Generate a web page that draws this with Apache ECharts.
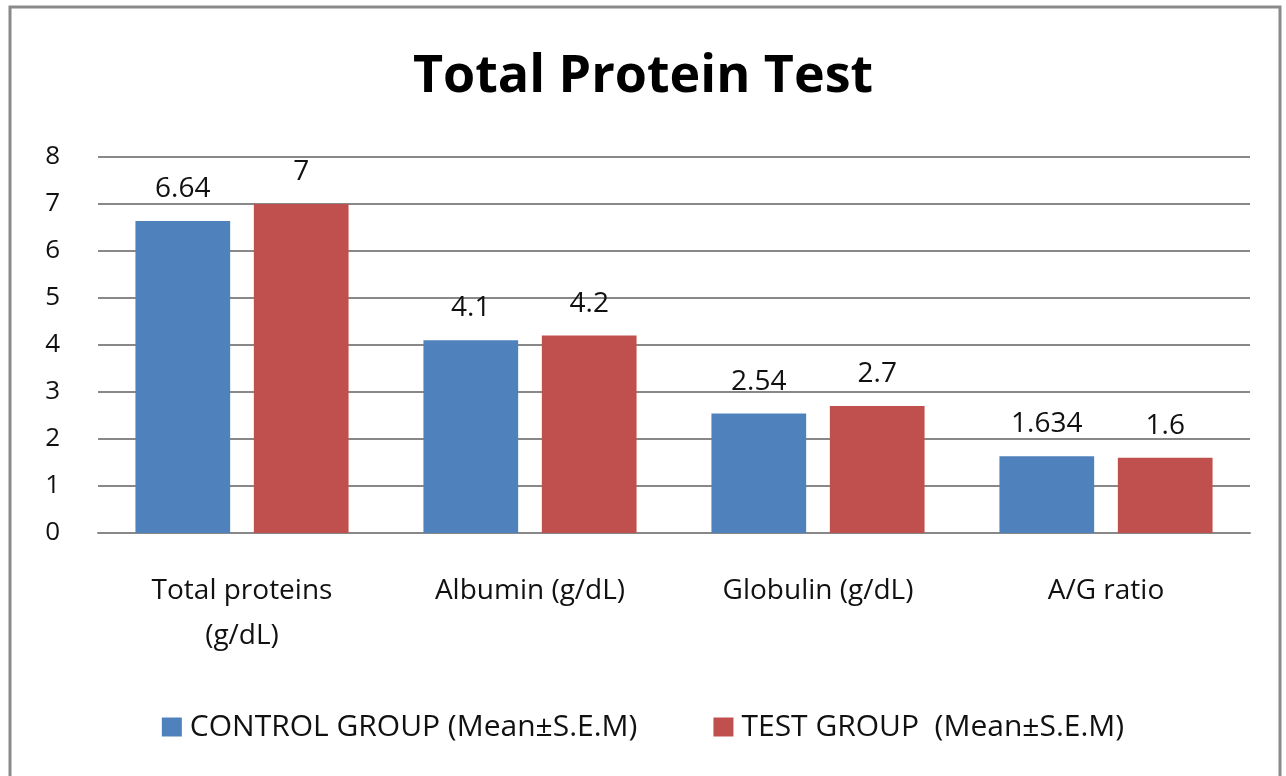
<!DOCTYPE html>
<html>
<head>
<meta charset="utf-8">
<script src="https://cdn.jsdelivr.net/npm/echarts@6/dist/echarts.min.js"></script>
<style>
  html, body { margin: 0; padding: 0; background: #fff; }
  #chart { width: 1286px; height: 776px; }
</style>
</head>
<body>
<div id="chart"></div>
<script>
const categories = ['Total proteins\n(g/dL)', 'Albumin (g/dL)', 'Globulin (g/dL)', 'A/G ratio']
const controlGroup = [6.64, 4.1, 2.54, 1.634]
const testGroup = [7, 4.2, 2.7, 1.6]
const yTicks = [0, 1, 2, 3, 4, 5, 6, 7, 8]

const font = '"Open Sans", "Noto Sans", sans-serif'
const chart = echarts.init(document.getElementById('chart'))

const labelStyle = {
  show: true,
  position: 'top',
  distance: 18,
  fontFamily: font,
  fontSize: 28,
  color: '#111',
}

chart.setOption({
  animation: false,
  textStyle: { fontFamily: font },
  graphic: [
    {
      type: 'rect',
      shape: { x: 10, y: 7, width: 1270, height: 820 },
      style: { fill: 'none', stroke: '#8a8a8a', lineWidth: 3 },
      silent: true,
    },
  ],
  title: {
    text: 'Total Protein Test',
    left: 'center',
    top: 46,
    textStyle: { fontFamily: font, fontSize: 52, fontWeight: 'bold', color: '#000' },
  },
  legend: {
    bottom: 29,
    left: 'center',
    itemWidth: 20,
    itemHeight: 19,
    itemGap: 76,
    icon: 'rect',
    textStyle: { fontFamily: font, fontSize: 30, color: '#111', padding: [0, 0, 0, 3] },
    data: ['CONTROL GROUP (Mean±S.E.M)', 'TEST GROUP  (Mean±S.E.M)'],
  },
  grid: { left: 98, right: 36, top: 157, height: 376 },
  xAxis: {
    type: 'category',
    data: categories,
    axisTick: { show: false },
    axisLine: { lineStyle: { color: '#888', width: 2 } },
    axisLabel: {
      margin: 36,
      fontFamily: font,
      fontSize: 28,
      lineHeight: 45,
      color: '#111',
      interval: 0,
    },
  },
  yAxis: {
    type: 'value',
    min: yTicks[0],
    max: yTicks[yTicks.length - 1],
    interval: 1,
    axisLine: { show: false },
    axisTick: { show: false },
    splitLine: { lineStyle: { color: '#888', width: 2 } },
    axisLabel: { margin: 38, fontFamily: font, fontSize: 26, color: '#111' },
  },
  series: [
    {
      name: 'CONTROL GROUP (Mean±S.E.M)',
      type: 'bar',
      data: controlGroup,
      barGap: '25%',
      barCategoryGap: '26%',
      itemStyle: { color: '#4F81BD' },
      label: labelStyle,
    },
    {
      name: 'TEST GROUP  (Mean±S.E.M)',
      type: 'bar',
      data: testGroup,
      itemStyle: { color: '#C0504D' },
      label: labelStyle,
    },
  ],
})
</script>
</body>
</html>
